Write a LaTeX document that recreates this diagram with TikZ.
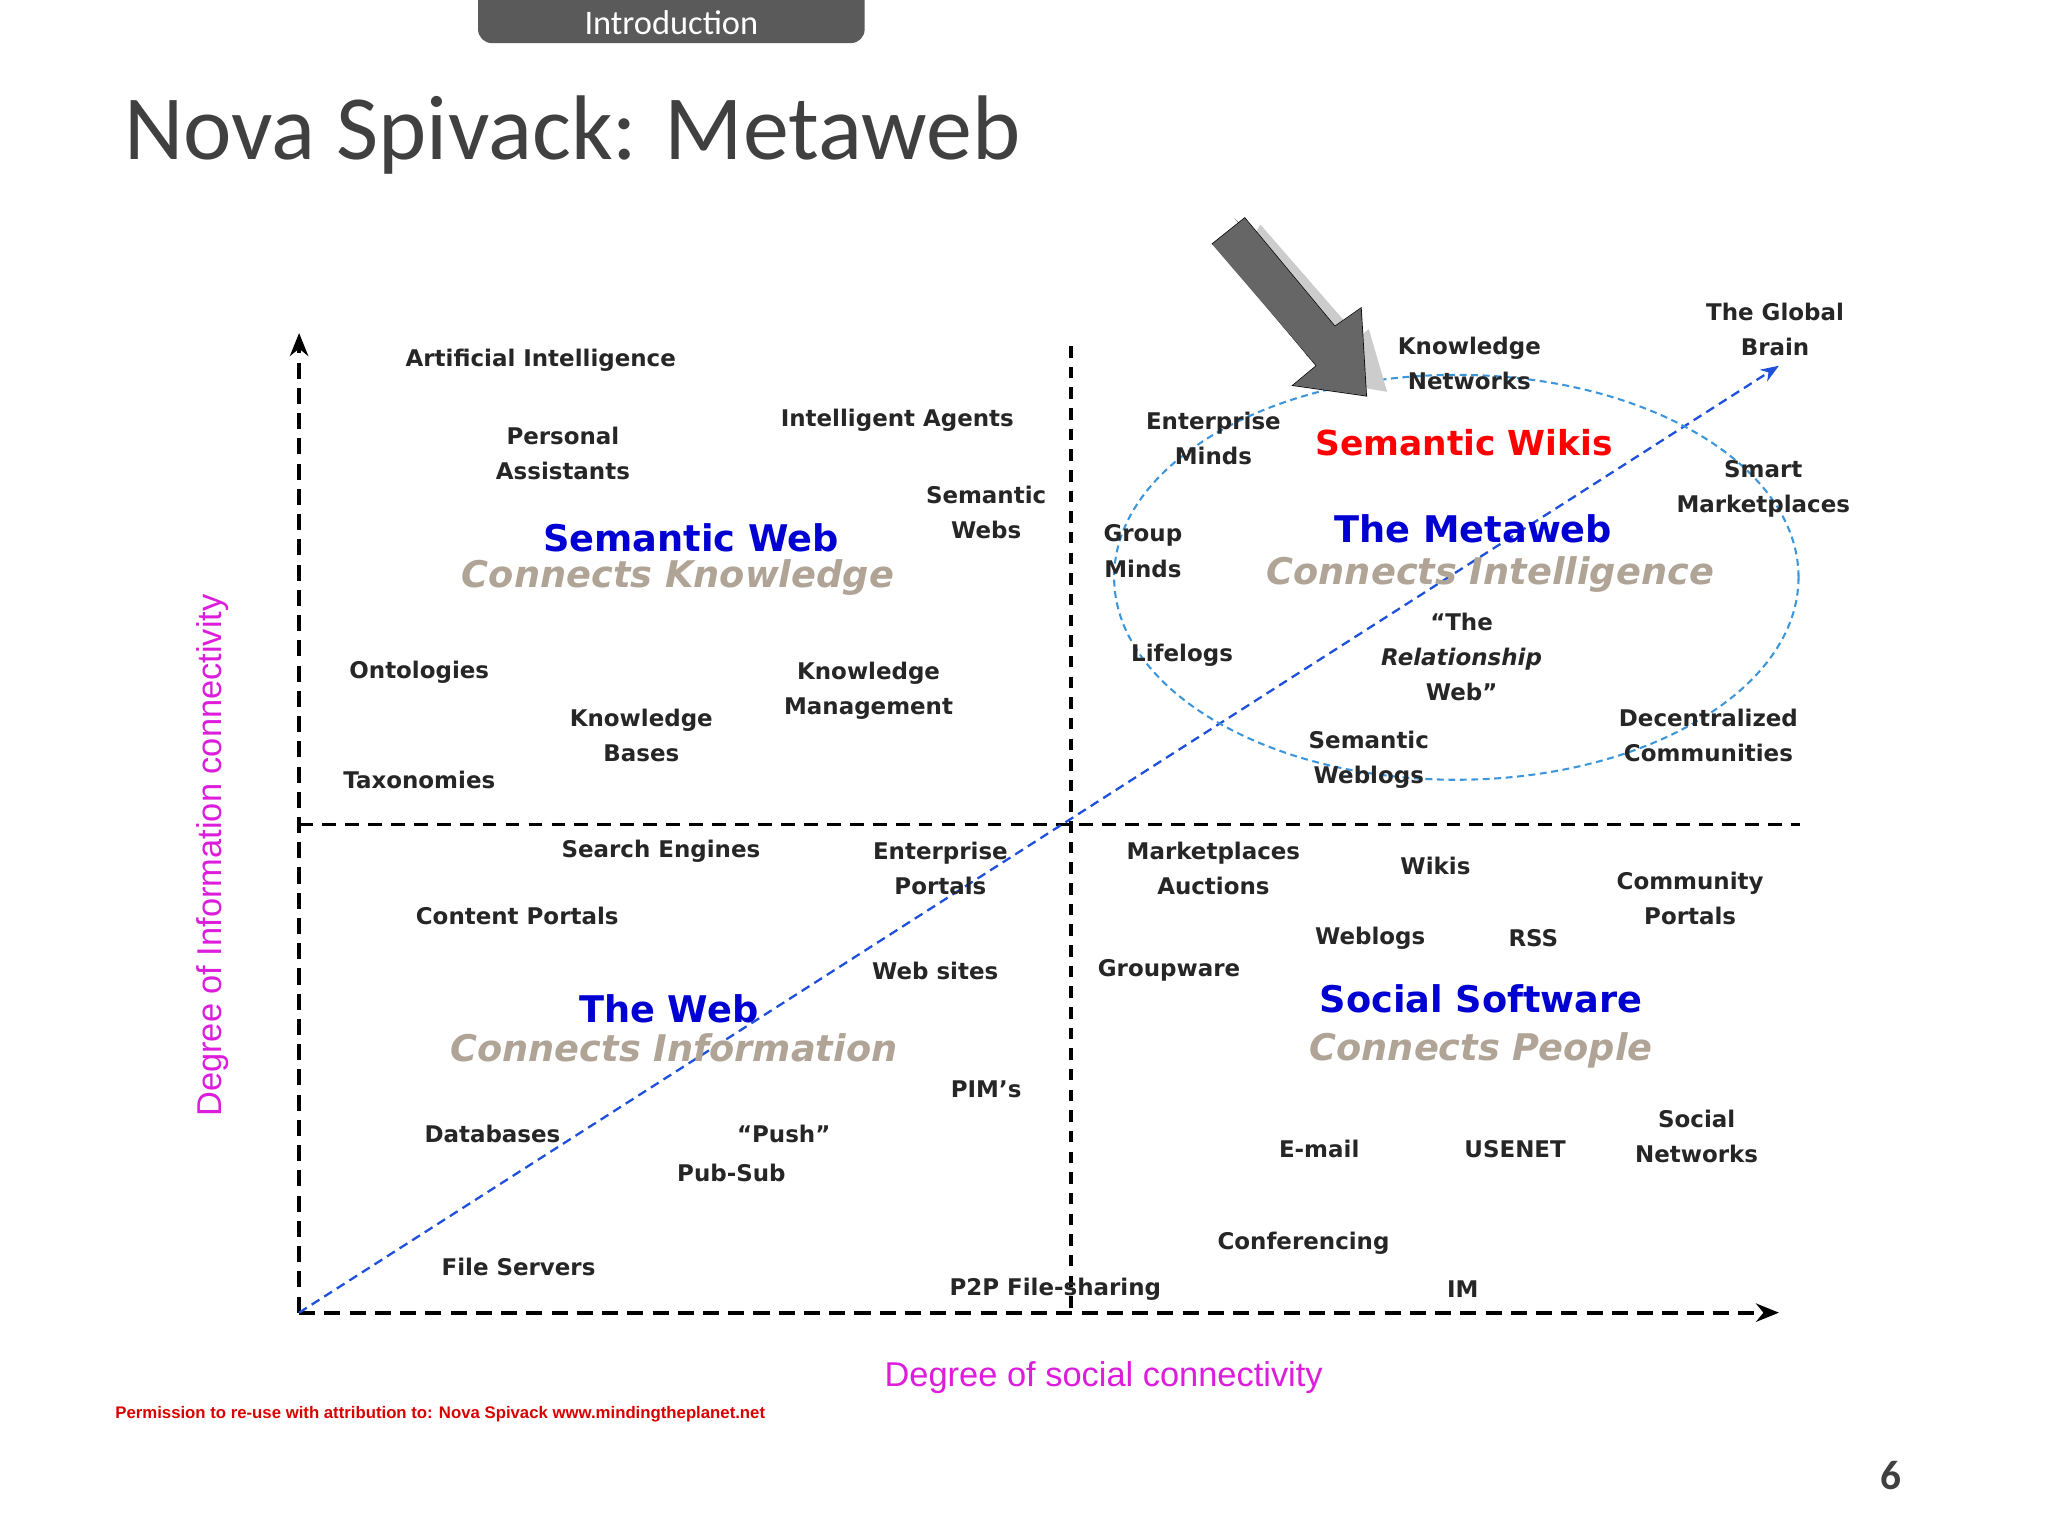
\documentclass[tikz,border=0pt]{standalone}
\usepackage{fontspec}
\setmainfont{DejaVu Sans}
\newfontfamily\calib{Carlito}
\newfontfamily\arial{Liberation Sans}
\usetikzlibrary{arrows.meta}
\definecolor{ttl}{RGB}{64,64,64}
\definecolor{tab}{RGB}{90,90,90}
\definecolor{bl}{RGB}{0,0,210}
\definecolor{beige}{RGB}{176,164,150}
\definecolor{mag}{RGB}{220,30,220}
\definecolor{dblue}{RGB}{30,80,220}
\definecolor{lblue}{RGB}{60,150,220}
\begin{document}
\begin{tikzpicture}[x=0.02cm,y=-0.02cm,
 lab/.style={font=\fontsize{10}{15.3}\selectfont\bfseries,align=center,text=black!85,inner sep=0},
 big/.style={font=\fontsize{16}{18}\selectfont\bfseries,text=bl,inner sep=0},
 con/.style={font=\fontsize{16}{18}\selectfont\bfseries\itshape,text=beige,inner sep=0},
 axl/.style={font=\arial\fontsize{15}{18}\selectfont,text=mag,inner sep=0},
 ax/.style={line width=1.6pt,dash pattern=on 7pt off 4pt},
]
\useasboundingbox (0,0) rectangle (1568,1176);
\fill[white] (0,0) rectangle (1568,1176);
% header
\fill[tab,rounded corners=6pt] (366,-10) rectangle (662,33);
\node[text=white,font=\calib\fontsize{15}{18}\selectfont] (hdr) at (514,17) {Introduction};
\node[anchor=west,text=ttl,font=\calib\fontsize{40}{44}\selectfont,inner sep=0] (title) at (95,103) {Nova Spivack: Metaweb};
% axes
\coordinate (o) at (229,1005);
\coordinate (ytop) at (229,255);
\coordinate (xend) at (1362,1005);
\coordinate (vt) at (820,265);
\coordinate (vb) at (820,1005);
\coordinate (hl) at (229,631);
\coordinate (hr) at (1378,631);
\coordinate (dg) at (1362,280);
\draw[ax,-{Stealth[length=10pt,width=8pt]}] (o) -- (ytop);
\draw[ax,-{Stealth[length=10pt,width=8pt]}] (o) -- (xend);
\draw[line width=1.4pt,dash pattern=on 5pt off 4pt] (vt) -- (vb);
\draw[line width=1.4pt,dash pattern=on 6pt off 4pt] (hl) -- (hr);
\draw[dblue,line width=1pt,dash pattern=on 4pt off 2.5pt,-{Stealth[length=8pt,width=6pt]}] (o) -- (dg);
\draw[lblue,line width=0.9pt,dash pattern=on 3pt off 2pt] (1115,442) ellipse [x radius=262,y radius=155];
% big 3D arrow
\fill[gray!40] (965,172) -- (1040,258) -- (1048,252) -- (1062,300) -- (1015,292) -- (1023,285) -- (950,198) -- cycle;
\shade[left color=black!85,right color=gray!60,shading angle=45]
 (945,167) -- (1020,256) -- (1000,272) -- (1047,304) -- (1040,252) -- (1025,262) -- (953,175) -- cycle;
\draw[black,line width=0.6pt] (928,187) -- (953,167) -- (1022,250) -- (1042,236) -- (1046,303) -- (990,295) -- (1008,280) -- (935,193);
\fill[gray!80!black] (928,187) -- (953,167) -- (1022,250) -- (1042,236) -- (1046,303) -- (990,295) -- (1008,280) -- cycle;
% labels
\node[lab] (a1) at (414,276) {Artificial Intelligence};
\node[lab] (a2) at (431,347) {Personal\\Assistants};
\node[lab] (a3) at (687,322) {Intelligent Agents};
\node[lab] (a4) at (755,392) {Semantic\\Webs};
\node[big] (sw) at (529,412) {Semantic Web};
\node[con] (ck) at (519,442) {Connects Knowledge};
\node[lab] (a5) at (321,515) {Ontologies};
\node[lab] (a6) at (491,563) {Knowledge\\Bases};
\node[lab] (a7) at (665,529) {Knowledge\\Management};
\node[lab] (a8) at (321,597) {Taxonomies};
\node[lab] (b1) at (1125,278) {Knowledge\\Networks};
\node[lab] (b2) at (1359,252) {The Global\\Brain};
\node[lab] (b3) at (929,336) {Enterprise\\Minds};
\node[font=\fontsize{15}{18}\selectfont\bfseries,text=red,inner sep=0] (swk) at (1121,339) {Semantic Wikis};
\node[lab] (b4) at (1350,374) {Smart\\Marketplaces};
\node[lab] (b5) at (875,422) {Group\\Minds};
\node[big] (mw) at (1128,405) {The Metaweb};
\node[con] (ci) at (1141,440) {Connects Intelligence};
\node[lab] (b6) at (905,502) {Lifelogs};
\node[lab] (b7) at (1119,503) {“The\\\textit{Relationship}\\Web”};
\node[lab] (b8) at (1048,582) {Semantic\\Weblogs};
\node[lab] (b9) at (1308,563) {Decentralized\\Communities};
\node[lab] (c1) at (506,652) {Search Engines};
\node[lab] (c2) at (720,665) {Enterprise\\Portals};
\node[lab] (c3) at (396,701) {Content Portals};
\node[lab] (c4) at (716,743) {Web sites};
\node[big] (tw) at (512,772) {The Web};
\node[con] (cinf) at (516,802) {Connects Information};
\node[lab] (c5) at (755,834) {PIM’s};
\node[lab] (c6) at (377,868) {Databases};
\node[lab] (c7) at (600,868) {“Push”};
\node[lab] (c8) at (560,898) {Pub-Sub};
\node[lab] (c9) at (397,970) {File Servers};
\node[lab] (c10) at (808,987) {P2P File-sharing};
\node[lab] (d1) at (929,665) {Marketplaces\\Auctions};
\node[lab] (d2) at (1099,663) {Wikis};
\node[lab] (d3) at (1294,688) {Community\\Portals};
\node[lab] (d4) at (1049,718) {Weblogs};
\node[lab] (d5) at (1174,718) {RSS};
\node[lab] (d6) at (895,743) {Groupware};
\node[big] (ss) at (1134,765) {Social Software};
\node[con] (cp) at (1134,804) {Connects People};
\node[lab] (d7) at (1010,880) {E-mail};
\node[lab] (d8) at (1160,880) {USENET};
\node[lab] (d9) at (1299,870) {Social\\Networks};
\node[lab] (d10) at (998,952) {Conferencing};
\node[lab] (d11) at (1120,987) {IM};
% axis labels
\node[axl] (xl) at (845,1055) {Degree of social connectivity};
\node[axl,rotate=90] (yl) at (163,655) {Degree of Information connectivity};
\node[anchor=west,text=red!85!black,font=\arial\fontsize{7.3}{9}\selectfont\bfseries,inner sep=0] (perm) at (88,1083) {Permission to re-use with attribution to: Nova Spivack www.mindingtheplanet.net};
\node[text=ttl,font=\calib\fontsize{18}{20}\selectfont\bfseries,inner sep=0] (pg) at (1448,1130) {6};
\end{tikzpicture}
\end{document}
